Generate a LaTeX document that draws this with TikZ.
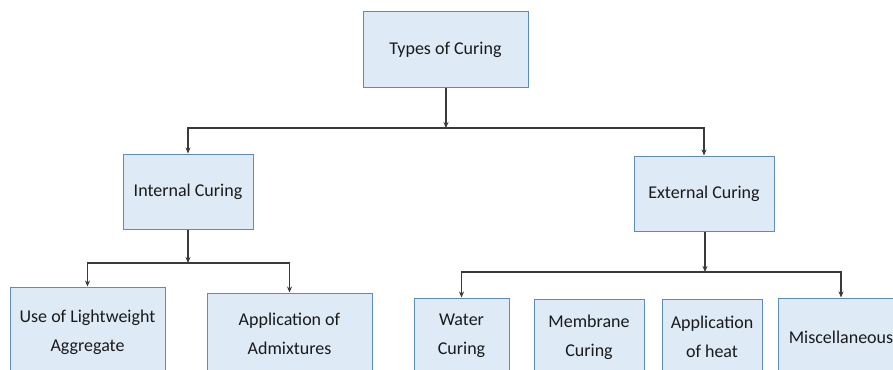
\documentclass[tikz,border=0pt]{standalone}
\usepackage{fontspec}
\setmainfont{Carlito}
\usetikzlibrary{arrows.meta}
\definecolor{boxfill}{HTML}{DEEAF6}
\definecolor{boxdraw}{HTML}{5B8CC0}
\definecolor{linecol}{HTML}{3A3A3A}
\definecolor{txt}{HTML}{1A1A1A}
\begin{document}
\begin{tikzpicture}[x=1pt,y=-1pt,
  box/.style={draw=boxdraw, line width=1pt, fill=boxfill, text=txt, inner sep=0pt,
    font=\fontsize{18}{29}\selectfont, align=center},
  conn/.style={draw=linecol, line width=1.2pt},
  arr/.style={conn, -{Stealth[length=6pt,width=5pt]}}]
\useasboundingbox (0,0) rectangle (893,369);
\clip (0,0) rectangle (893,369);
\fill[white] (0,0) rectangle (893,369);
\node[box, minimum width=165, minimum height=75] (top) at (445.5,49.5) {Types of Curing};
\node[box, minimum width=130, minimum height=75] (int) at (188,191.5) {Internal Curing};
\node[box, minimum width=140, minimum height=75] (ext) at (704,193.5) {External Curing};
\node[box, minimum width=155, minimum height=90] (use) at (87.5,332) {Use of Lightweight\\Aggregate};
\node[box, minimum width=165, minimum height=82] (adm) at (289.5,334) {Application of\\Admixtures};
\node[box, minimum width=95, minimum height=76] (wat) at (461.5,336) {Water\\Curing};
\node[box, minimum width=110, minimum height=76] (mem) at (589,337) {Membrane\\Curing};
\node[box, minimum width=100, minimum height=76] (heat) at (712,337) {Application\\of heat};
\node[box, minimum width=126, minimum height=78] (misc) at (841,337) {Miscellaneous};
\coordinate (j1) at (446,128);
\coordinate (j2) at (188,263);
\coordinate (j3) at (705,272);
\draw[arr] (top.south -| j1) -- (j1);
\draw[arr] (j1) -| (int.north);
\draw[arr] (j1) -| (ext.north);
\draw[arr] (int.south) -- (j2);
\draw[arr] (j2) -| (use.north);
\draw[arr] (j2) -| (adm.north);
\draw[arr] (ext.south -| j3) -- (j3);
\draw[arr] (j3) -| (wat.north);
\draw[arr] (j3) -| (misc.north);
\end{tikzpicture}
\end{document}
